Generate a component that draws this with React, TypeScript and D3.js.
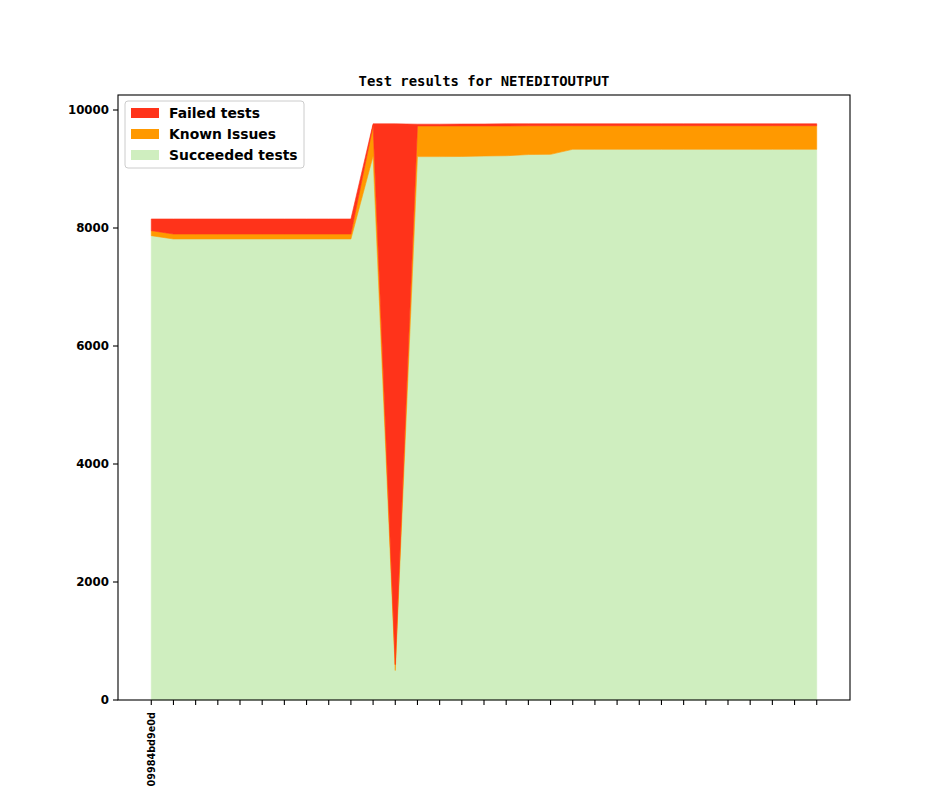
import * as d3 from "d3";
import { useEffect } from "react";

// commits on the x axis, only the first one carries a label
const tickLabels = ["09984bd9e0d", ...Array(30).fill("")];

const succeeded = [
  7870, 7814, 7814, 7814, 7814, 7814, 7814, 7814, 7814, 7814,
  9220, 500, 9210, 9210, 9212, 9220, 9225, 9245, 9248,
  9334, 9334, 9334, 9334, 9334, 9334, 9334, 9334, 9334, 9334, 9334, 9334,
];

const known = [
  85, 84, 84, 84, 84, 84, 84, 84, 84, 84,
  516, 100, 520, 520, 518, 510, 505, 488, 485,
  400, 400, 400, 400, 400, 400, 400, 400, 400, 400, 400, 400,
];

const failed = [
  198, 255, 255, 255, 255, 255, 255, 255, 255, 255,
  30, 9166, 30, 30, 32, 33, 36, 33, 33,
  32, 32, 32, 32, 32, 32, 32, 32, 32, 32, 32, 32,
];

const yTicks = [0, 2000, 4000, 6000, 8000, 10000];

const colors = {
  succeeded: "#cfeebf",
  known: "#ff9900",
  failed: "#ff331a",
};

const W = 944;
const H = 787;
const margin = { left: 118, right: 850, top: 95, bottom: 700 };

const App = () => {
  useEffect(() => {
    document.body.style.margin = "0";
  }, []);

  const rows = succeeded.map((s, i) => ({ i, succeeded: s, known: known[i], failed: failed[i] }));
  const keys = ["succeeded", "known", "failed"];
  const series = d3.stack().keys(keys)(rows as any);

  const n = rows.length;
  const x = d3.scaleLinear()
    .domain([-0.05 * (n - 1), (n - 1) * 1.05])
    .range([margin.left, margin.right]);

  const maxTotal = d3.max(rows, (d) => d.succeeded + d.known + d.failed) as number;
  const y = d3.scaleLinear()
    .domain([0, maxTotal * 1.05])
    .range([margin.bottom, margin.top]);

  const area = d3.area<any>()
    .x((d) => x(d.data.i))
    .y0((d) => y(d[0]))
    .y1((d) => y(d[1]));

  const legend = [
    { label: "Failed tests", color: colors.failed },
    { label: "Known Issues", color: colors.known },
    { label: "Succeeded tests", color: colors.succeeded },
  ];

  return (
    <svg width={W} height={H} style={{ display: "block" }}>
      <rect width={W} height={H} fill="white" />
      {series.map((s) => (
        <path
          key={s.key}
          d={area(s as any) as string}
          fill={(colors as any)[s.key]}
          stroke={(colors as any)[s.key]}
          strokeWidth={0.6}
        />
      ))}

      <rect
        x={margin.left}
        y={margin.top}
        width={margin.right - margin.left}
        height={margin.bottom - margin.top}
        fill="none"
        stroke="black"
        strokeWidth={1.1}
      />

      {yTicks.map((t) => (
        <g key={t} transform={`translate(${margin.left},${y(t)})`}>
          <line x1={-5} x2={0} stroke="black" strokeWidth={1.1} />
          <text
            x={-9}
            dy="0.36em"
            textAnchor="end"
            fontFamily="DejaVu Sans"
            fontWeight="bold"
            fontSize={11.8}
          >
            {t}
          </text>
        </g>
      ))}

      {tickLabels.map((lab, i) => (
        <g key={i} transform={`translate(${x(i)},${margin.bottom})`}>
          <line y1={0} y2={5} stroke="black" strokeWidth={1.1} />
          {lab && (
            <text
              transform="translate(0,12) rotate(-90)"
              textAnchor="end"
              dy="0.36em"
              fontFamily="DejaVu Sans"
              fontWeight="bold"
              fontSize={9.7}
            >
              {lab}
            </text>
          )}
        </g>
      ))}

      <text
        x={(margin.left + margin.right) / 2}
        y={86}
        textAnchor="middle"
        fontFamily="DejaVu Sans Mono"
        fontWeight="bold"
        fontSize={13.9}
      >
        Test results for NETEDITOUTPUT
      </text>

      <g transform="translate(125,101)">
        <rect
          width={179}
          height={67}
          rx={3}
          fill="white"
          fillOpacity={0.8}
          stroke="#cccccc"
          strokeWidth={1}
        />
        {legend.map((l, k) => (
          <g key={l.label} transform={`translate(0,${12 + k * 21})`}>
            <rect x={6} y={-5} width={28} height={10} fill={l.color} />
            <text
              x={44}
              dy="0.36em"
              fontFamily="DejaVu Sans"
              fontWeight="bold"
              fontSize={13.9}
            >
              {l.label}
            </text>
          </g>
        ))}
      </g>
    </svg>
  );
};

export default App;
